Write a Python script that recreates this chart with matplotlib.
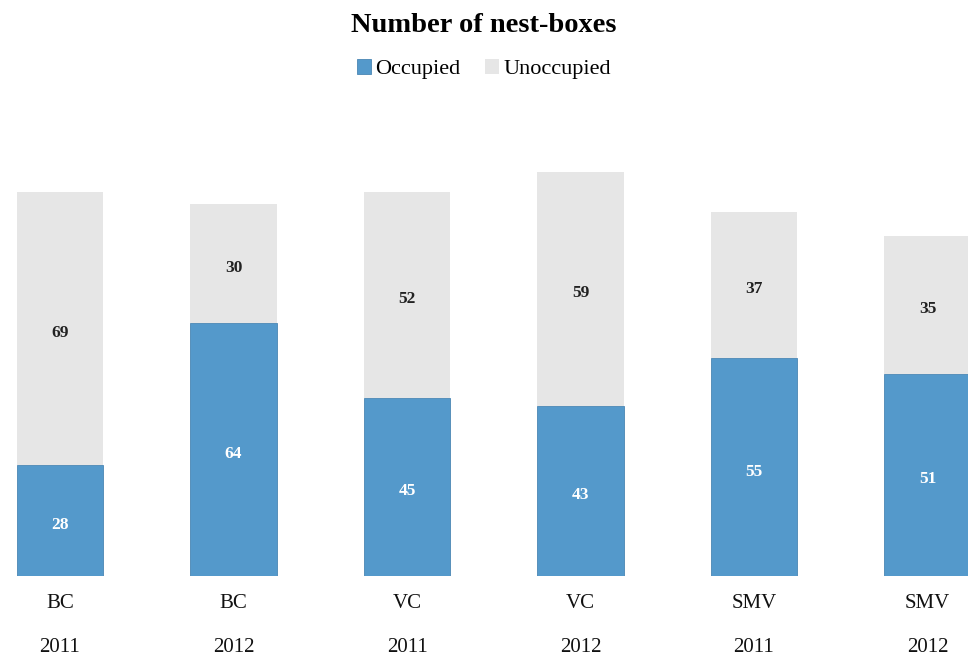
import matplotlib.pyplot as plt
from matplotlib.transforms import blended_transform_factory

# data
sites = ['BC', 'BC', 'VC', 'VC', 'SMV', 'SMV']
years = ['2011', '2012', '2011', '2012', '2011', '2012']
occupied = [28, 64, 45, 43, 55, 51]
unoccupied = [69, 30, 52, 59, 37, 35]

blue = '#5499cb'
grey = '#e6e6e6'
plt.rcParams['font.family'] = ['Liberation Serif', 'DejaVu Serif']

fig = plt.figure(figsize=(9.68, 6.57), dpi=100)
ax = fig.add_axes([0, 81 / 657, 1, 475 / 657])

x = list(range(len(sites)))
b1 = ax.bar(x, occupied, width=0.5, color=blue, edgecolor='#4a86b4', linewidth=0.6, label='Occupied')
b2 = ax.bar(x, unoccupied, width=0.5, bottom=occupied, color=grey, label='Unoccupied')

for i in x:
    ax.text(i, occupied[i] / 2 - 0.6, str(occupied[i]), ha='center', va='center_baseline',
            color='white', fontsize=12.5, fontweight='bold')
    ax.text(i, occupied[i] + unoccupied[i] / 2 - 0.6, str(unoccupied[i]), ha='center', va='center_baseline',
            color='#222222', fontsize=12.5, fontweight='bold')

ax.set_xlim(-60 / 173.5, 908 / 173.5)
ax.set_ylim(0, 120)
ax.axis('off')

tr = blended_transform_factory(ax.transData, fig.transFigure)
for i in x:
    ax.text(i, 1 - 604 / 657, sites[i], transform=tr, ha='center', va='center', fontsize=15, color='#111111')
    ax.text(i, 1 - 647 / 657, years[i], transform=tr, ha='center', va='center', fontsize=15, color='#111111')

fig.text(0.5, 1 - 26 / 657, 'Number of nest-boxes', ha='center', va='center',
         fontsize=20.5, fontweight='bold')
fig.legend(handles=[b1, b2], loc='center', bbox_to_anchor=(0.5, 1 - 69 / 657), ncol=2,
           frameon=False, fontsize=16, handlelength=0.65, handleheight=0.65,
           handletextpad=0.2, columnspacing=1.1)

fig.savefig('out.png', dpi=100)
